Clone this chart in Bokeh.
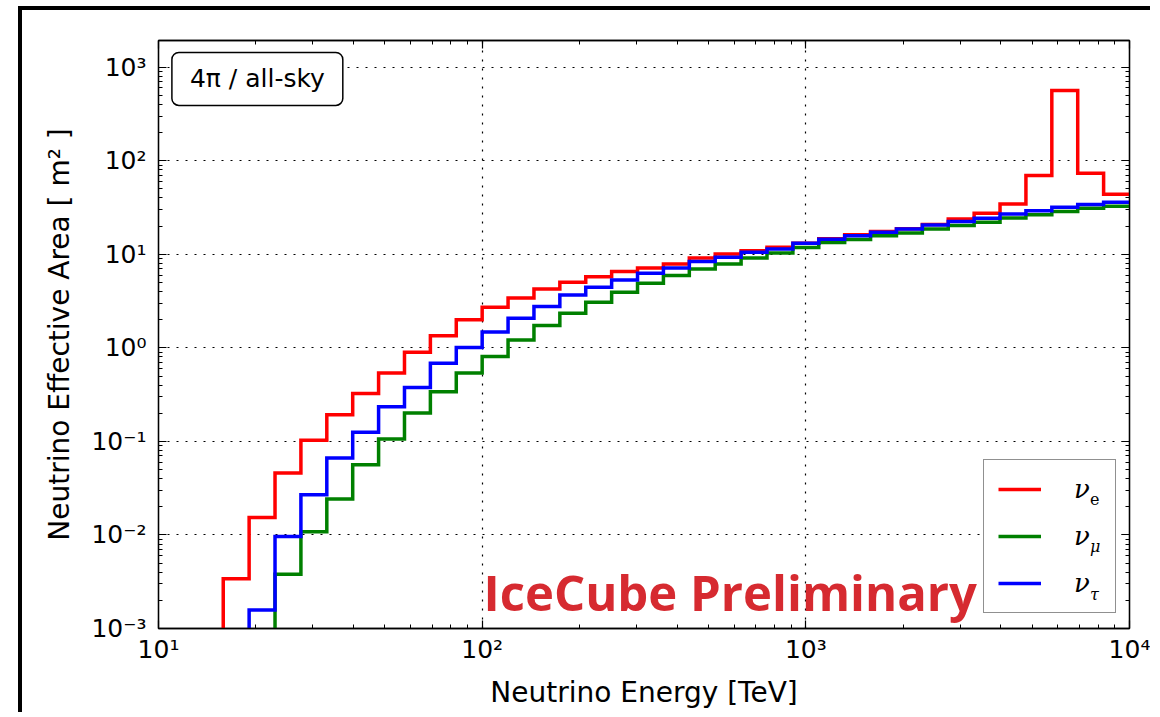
import numpy as np
from bokeh.plotting import figure
from bokeh.models import (LogAxis, FixedTicker, Legend, LegendItem, Label,
                          CustomJSTickFormatter, Range1d, ColumnDataSource,
                          BoxAnnotation)
from bokeh.layouts import column
from bokeh.embed import file_html
from bokeh.resources import INLINE
from bokeh.core.properties import value

# ---------------- data ----------------
# log10 of the energy bin edges [TeV] (0.08-decade bins)
bin_edges_log10 = np.round(np.linspace(1.2, 4.0, 36), 2)

# effective areas [m^2] per bin, starting at the given bin index
nu_e_first_bin = 0
nu_e_area = [0.0034, 0.0154, 0.046, 0.103, 0.193, 0.326, 0.538, 0.895, 1.35, 2.0,
             2.71, 3.41, 4.26, 5.02, 5.77, 6.53, 7.16, 7.89, 9.15, 10.1,
             10.9, 11.9, 13.1, 14.7, 16.2, 17.5, 18.8, 20.8, 23.9, 27.5,
             34.6, 69.5, 564.0, 73.5, 43.8]

nu_mu_first_bin = 2
nu_mu_area = [0.0038, 0.0108, 0.0242, 0.0564, 0.106, 0.201, 0.34, 0.54, 0.81, 1.21,
              1.73, 2.34, 3.07, 3.93, 4.90, 5.92, 6.98, 7.89, 9.15, 10.3,
              11.8, 13.4, 14.4, 15.8, 16.9, 18.7, 20.3, 22.0, 24.5, 26.4,
              28.6, 31.0, 32.6]

nu_tau_first_bin = 1
nu_tau_area = [0.00158, 0.0096, 0.0269, 0.0664, 0.125, 0.235, 0.378, 0.683, 1.01, 1.48,
               2.07, 2.76, 3.68, 4.44, 5.32, 6.27, 7.16, 8.36, 9.29, 10.5,
               11.4, 13.1, 14.5, 15.8, 17.2, 18.7, 20.6, 22.4, 24.3, 27.0,
               29.3, 31.8, 34.0, 36.0]

legend_subscripts = ["e", "μ", "τ"]
series_colors = ["#ff0000", "#008000", "#0000ff"]

x_ticks = [1e1, 1e2, 1e3, 1e4]
x_tick_labels = ["10¹", "10²", "10³", "10⁴"]
y_ticks = [1e-3, 1e-2, 1e-1, 1e0, 1e1, 1e2, 1e3]
y_tick_labels = ["10⁻³", "10⁻²", "10⁻¹", "10⁰", "10¹", "10²", "10³"]

x_label = "Neutrino Energy [TeV]"
y_label = "Neutrino Effective Area [ m² ]"
sky_label = "4π / all-sky"
watermark = "IceCube Preliminary"

# ---------------- figure ----------------
p = figure(x_axis_type="log", y_axis_type="log",
           x_range=Range1d(10, 1e4), y_range=Range1d(1e-3, 1930),
           width=1128, height=702,
           min_border_left=136, min_border_right=21,
           min_border_top=30, min_border_bottom=84,
           output_backend="svg", toolbar_location=None)
p.background_fill_color = "white"
p.border_fill_color = "white"
p.outline_line_color = "black"
p.outline_line_width = 1.3

x_bottom = p.below[0]
y_left = p.left[0]


def minor_for(ticks):
    out = []
    for t in ticks[:-1]:
        out += [t * m for m in range(2, 10)]
    return out


x_ticker = FixedTicker(ticks=x_ticks, minor_ticks=minor_for(x_ticks))
y_ticker = FixedTicker(ticks=y_ticks, minor_ticks=minor_for(y_ticks))

x_top = LogAxis()
y_right = LogAxis()
p.add_layout(x_top, "above")
p.add_layout(y_right, "right")

for ax, tk, labs, ticks in [(x_bottom, x_ticker, x_tick_labels, x_ticks),
                            (y_left, y_ticker, y_tick_labels, y_ticks),
                            (x_top, x_ticker, None, x_ticks),
                            (y_right, y_ticker, None, y_ticks)]:
    ax.ticker = tk
    ax.major_tick_in = 8
    ax.major_tick_out = 0
    ax.minor_tick_in = 4
    ax.minor_tick_out = 0
    ax.axis_line_color = "black"
    ax.axis_line_width = 1.3
    ax.major_tick_line_color = "black"
    ax.major_tick_line_width = 1.2
    ax.minor_tick_line_color = "black"
    ax.minor_tick_line_width = 1.0
    if labs is None:
        ax.formatter = CustomJSTickFormatter(code="return '';")
        ax.major_label_text_font_size = "1px"
        ax.major_label_standoff = 0
    else:
        ax.major_label_overrides = {t: l for t, l in zip(ticks, labs)}
        ax.major_label_text_font = "DejaVu Sans"
        ax.major_label_text_font_size = "25px"
        ax.major_label_text_color = "black"

x_bottom.major_label_standoff = 6
y_left.major_label_standoff = 12

x_bottom.axis_label = x_label
y_left.axis_label = y_label
for ax in (x_bottom, y_left):
    ax.axis_label_text_font = "DejaVu Sans"
    ax.axis_label_text_font_size = "28px"
    ax.axis_label_text_font_style = "normal"
    ax.axis_label_text_color = "black"
x_bottom.axis_label_standoff = 9
y_left.axis_label_standoff = 12

p.xgrid.ticker = FixedTicker(ticks=x_ticks)
p.ygrid.ticker = FixedTicker(ticks=y_ticks)
for g in (p.xgrid, p.ygrid):
    g.grid_line_color = "black"
    g.grid_line_dash = "2 7"
    g.grid_line_width = 1.2

# white patch behind the legend so the grid does not show through it
p.add_layout(BoxAnnotation(left=3538, right=9049, bottom=1.47e-3, top=0.0637,
                           fill_color="white", fill_alpha=1.0,
                           line_color=None, level="underlay"))

# ---------------- step histograms ----------------
renderers = []
for first, vals, color in [(nu_e_first_bin, nu_e_area, series_colors[0]),
                           (nu_mu_first_bin, nu_mu_area, series_colors[1]),
                           (nu_tau_first_bin, nu_tau_area, series_colors[2])]:
    xs = [10 ** bin_edges_log10[first]]
    ys = [1e-6]
    for i, v in enumerate(vals):
        b = first + i
        xs += [10 ** bin_edges_log10[b], 10 ** bin_edges_log10[b + 1]]
        ys += [v, v]
    r = p.line(xs, ys, line_color=color, line_width=3.5, line_join="miter")
    renderers.append(r)

# ---------------- watermark ----------------
wm_src = ColumnDataSource(data=dict(x=[101.0], y=[2.45e-3], t=[watermark]))
p.text(x="x", y="y", text="t", source=wm_src,
       text_font=value("Open Sans"), text_font_style="bold",
       text_font_size="49px", text_color="#d62a30",
       text_baseline="alphabetic", text_align="left")

# ---------------- legend ----------------
legend = Legend(items=[LegendItem(label="ν", renderers=[r]) for r in renderers],
                location=(825, 15),
                padding=14, spacing=17, margin=0,
                glyph_width=43, glyph_height=30,
                label_height=30, label_width=27, label_standoff=33,
                label_text_font="DejaVu Serif", label_text_font_style="italic",
                label_text_font_size="26px", label_text_color="black",
                border_line_color="#222222", border_line_width=1.5,
                background_fill_alpha=0.0)
p.add_layout(legend)

sub_y = [0.0241, 0.0076, 0.00229]
for sub, yy in zip(legend_subscripts, sub_y):
    p.add_layout(Label(x=7550, y=yy, text=sub, text_font="DejaVu Serif",
                       text_font_style="italic" if sub != "e" else "normal",
                       text_font_size="16px", text_color="black",
                       text_baseline="middle", text_align="left"))

# ---------------- sky label ----------------
p.add_layout(Label(x=11.0, y=1440, text=sky_label, text_font="DejaVu Sans",
                   text_font_size="25px", text_color="black",
                   anchor="top_left", padding=(18, 12),
                   border_line_color="black", border_line_width=1.5,
                   border_radius=7, background_fill_color="white"))

layout = column(p, margin=(6, 0, 0, 18),
                styles={"border-top": "4px solid black",
                        "border-left": "4px solid black"})

open("out.html", "w").write(file_html(layout, INLINE))
